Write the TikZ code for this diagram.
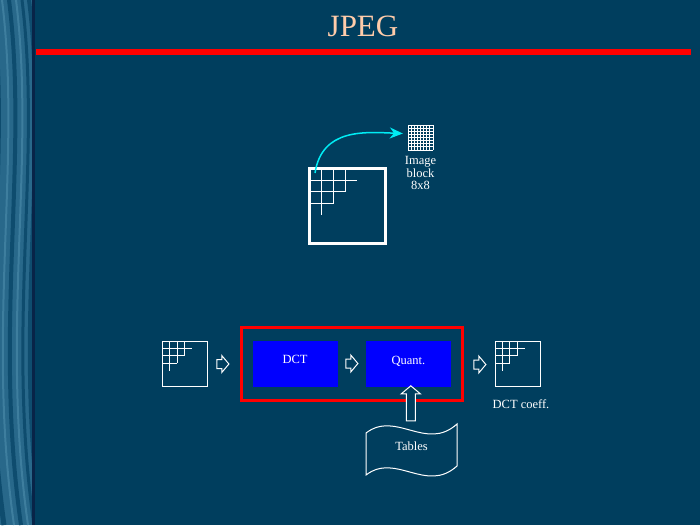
\documentclass[tikz,border=0pt]{standalone}
\usepackage{fontspec}
\setmainfont{Liberation Serif}
\usetikzlibrary{arrows.meta,shapes.arrows}
\definecolor{slidebg}{RGB}{0,62,94}
\definecolor{stripbase}{RGB}{40,104,138}
\definecolor{stripdark}{RGB}{14,76,110}
\definecolor{striplight}{RGB}{62,126,158}
\definecolor{stripedge}{RGB}{8,36,72}
\definecolor{titlepeach}{RGB}{255,204,170}
\definecolor{boxblue}{RGB}{0,0,255}
\definecolor{arccyan}{RGB}{0,236,244}
\tikzset{
  lbl/.style={text=white, inner sep=0pt, font=\fontsize{12.5}{12.5}\selectfont},
  bluebox/.style={fill=boxblue, minimum width=85pt, minimum height=46pt, inner sep=0pt},
  hollowarrow/.style={single arrow, draw=white, fill=slidebg, line width=1pt, inner xsep=0pt, inner ysep=4pt,
    minimum height=12pt, single arrow head extend=4pt, single arrow tip angle=100},
}
\begin{document}
\begin{tikzpicture}[x=1pt,y=-1pt]
    \useasboundingbox (0,0) rectangle (700,525);
    \fill[slidebg] (0,0) rectangle (700,525);
    % marbled strip
    \begin{scope}
    \clip (0,0) rectangle (32,525);
    \fill[stripbase] (0,0) rectangle (32,525);
    \foreach \s/\w/\c in {-8/5/stripdark,2/2/striplight,9/4/stripdark,16/2/striplight,22/3/stripdark,29/4/stripdark}
        {\draw[\c, line width=\w] (\s,0) .. controls (\s+20,160) and (\s-16,330) .. (\s+12,525);}
    \end{scope}
    \fill[stripedge] (32,0) rectangle (35,525);
    \node[text=titlepeach, font=\fontsize{31}{31}\selectfont, inner sep=0pt, anchor=base] (title) at (363,36) {JPEG};
    \fill[red] (36,49) rectangle (691,55);
    % image and block
    \draw[white, line width=3pt] (309.5,168.5) rectangle (385.5,243.5);
    \draw[white, line width=1pt] (162.3,341) rectangle (207.7,386.5);
    \draw[white, line width=1pt] (495,341) rectangle (540.7,386.5);
    \foreach \ox/\oy/\c in {310/168.5/11.7, 162.3/341/7.4, 495/341/7.4}
        {\foreach \k in {1,2,3}
            {\draw[white, line width=1pt] (\ox,\oy+\k*\c) -- ++(5*\c-\k*\c,0);
             \draw[white, line width=1pt] (\ox+\k*\c,\oy) -- ++(0,5*\c-\k*\c);}}
    \node[minimum size=25pt, inner sep=0pt] (blk) at (420.5,137.5) {};
    \foreach \i in {0,...,8}
        {\draw[white, line width=0.9pt] (408+\i*3.125,125) -- ++(0,25);
         \draw[white, line width=0.9pt] (408,125+\i*3.125) -- ++(25,0);}
    \node[lbl, align=center, below=6pt] (blklbl) at (blk.south) {Image\\block\\8x8};
    \coordinate (corner) at (315,173);
    \draw[arccyan, line width=1.5pt, -{Stealth[length=13pt,width=11pt]}] (corner) .. controls (322,128) and (365,132) .. ([xshift=-5pt,yshift=4pt]blk.west);
    % coding chain
    \draw[red, line width=3pt] (241,327) rectangle (462,400);
    \node[bluebox] (dct) at (295,364) {};
    \node[lbl] at ([yshift=4.5pt]dct.center) {DCT};
    \node[bluebox] (quant) at (408.5,364) {};
    \node[lbl] at ([yshift=3pt]quant.center) {Quant.};
    \node[hollowarrow] (a1) at (221,364) {};
    \node[hollowarrow] (a2) at (350,363.5) {};
    \node[hollowarrow] (a3) at (478,364.5) {};
    \node[lbl] (coeff) at (521,404) {DCT coeff.};
    % tables
    \draw[white, line width=1pt] (366,433) .. controls (396,410) and (426,452) .. (457,424) -- (457,466) .. controls (426,494) and (396,452) .. (366,475) -- cycle;
    \node[lbl] (tables) at (411.5,446) {Tables};
    \node[hollowarrow, rotate=90, minimum height=35pt, single arrow head extend=5pt] (up) at (410.8,405.2) {};
\end{tikzpicture}
\end{document}
